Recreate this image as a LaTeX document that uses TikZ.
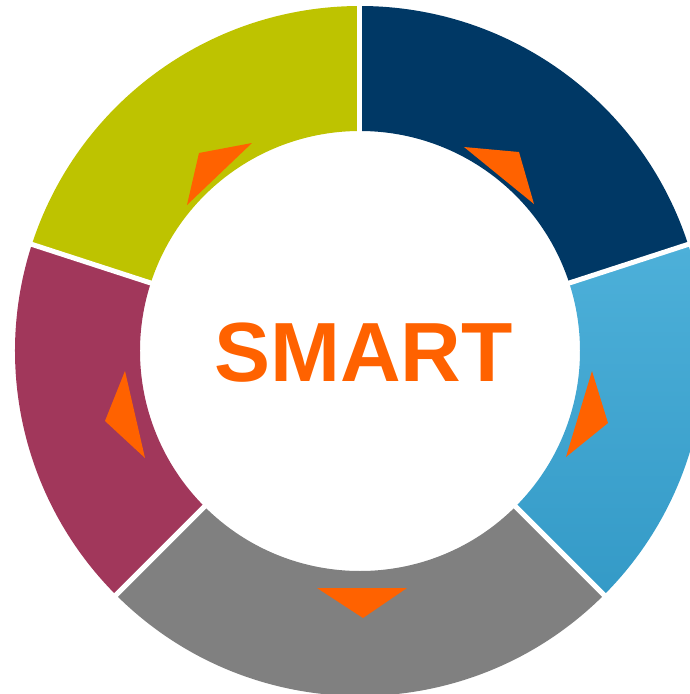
\documentclass[tikz,border=0pt]{standalone}
\usepackage{fontspec}
\setmainfont{Liberation Sans}
\definecolor{smartnavy}{RGB}{0,56,101}
\definecolor{smartskyA}{RGB}{77,176,217}
\definecolor{smartskyB}{RGB}{52,154,199}
\definecolor{smartgray}{RGB}{128,128,128}
\definecolor{smartwine}{RGB}{161,55,91}
\definecolor{smartolive}{RGB}{190,195,0}
\definecolor{smartorange}{RGB}{255,98,0}
\begin{document}
\begin{tikzpicture}[x=1pt, y=1pt,
  navyseg/.style={fill=smartnavy},
  skyseg/.style={top color=smartskyA, bottom color=smartskyB},
  grayseg/.style={fill=smartgray},
  wineseg/.style={fill=smartwine},
  oliveseg/.style={fill=smartolive},
  gapline/.style={draw=white, line width=5pt},
  pointer/.style={fill=smartorange}]
\useasboundingbox (-360,-343) rectangle (329,351);

% ring segments
\foreach \a/\b/\s in {90/18/navyseg, 18/-45/skyseg, -45/-135/grayseg, -135/-198/wineseg, 162/90/oliveseg} {
  \path[\s] (\a:345) arc[start angle=\a, end angle=\b, radius=345]
    -- (\b:220) arc[start angle=\b, end angle=\a, radius=220] -- cycle;
}
\foreach \a in {90,18,-45,-135,162}
  \draw[gapline] (\a:216) -- (\a:349);

% orange pointers
\foreach \p/\q/\r in {{104,204}/{159,199}/{174,147},
                      {232,-20}/{248,-72}/{206,-106},
                      {-43,-237}/{47,-237}/{3,-267},
                      {-235,-20}/{-255,-70}/{-215,-107},
                      {-108,208}/{-161,198}/{-173,146}}
  \fill[pointer] (\p) -- (\q) -- (\r) -- cycle;

\node[font=\fontsize{84}{84}\selectfont\bfseries, text=smartorange, inner sep=0pt] (title) at (3.5,-2) {SMART};
\end{tikzpicture}
\end{document}
